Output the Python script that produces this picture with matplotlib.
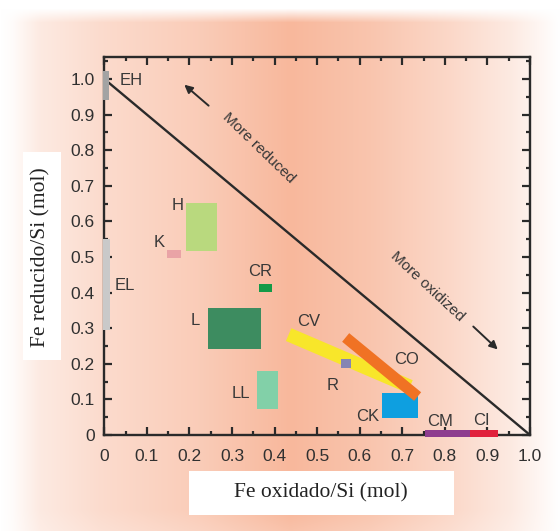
import numpy as np
import matplotlib
matplotlib.use("Agg")
import matplotlib.pyplot as plt
from matplotlib.patches import Rectangle
from matplotlib.ticker import FixedLocator, MultipleLocator, FixedFormatter

# chondrite groups drawn as boxes (Fe oxidado/Si range, Fe reducido/Si range)
box_names = ["EH", "EL", "H", "K", "CR", "L", "LL", "CK", "CM", "CI"]
box_x0 = [-0.004, -0.003, 0.191, 0.148, 0.364, 0.244, 0.359, 0.652, 0.753, 0.859]
box_x1 = [0.011, 0.014, 0.265, 0.179, 0.393, 0.367, 0.409, 0.738, 0.859, 0.926]
box_y0 = [0.941, 0.295, 0.517, 0.496, 0.401, 0.242, 0.072, 0.049, -0.005, -0.005]
box_y1 = [1.022, 0.550, 0.651, 0.520, 0.424, 0.356, 0.181, 0.117, 0.015, 0.015]
box_colors = ["#a3a3a3", "#c9c9c9", "#b9d97e", "#e9a3a6", "#149a48", "#3d8c60",
              "#82d0a8", "#0e9fe0", "#8e3d8f", "#e1213c"]

# groups drawn as slanted bands (start point -> end point)
band_names = ["CV", "CO"]
band_x0 = [0.433, 0.567]
band_y0 = [0.282, 0.274]
band_x1 = [0.718, 0.736]
band_y1 = [0.136, 0.108]
band_colors = ["#f8e62a", "#f07224"]

# R group: small square sitting on the CV band
r_x = [0.556, 0.580]
r_y = [0.188, 0.213]

label_text = ["EH", "EL", "H", "K", "CR", "L", "LL", "CV", "R", "CO", "CK", "CM", "CI"]
label_x = [0.064, 0.049, 0.172, 0.128, 0.367, 0.213, 0.320, 0.479, 0.537, 0.710, 0.618, 0.789, 0.886]
label_y = [0.995, 0.420, 0.646, 0.540, 0.459, 0.323, 0.117, 0.318, 0.140, 0.213, 0.051, 0.037, 0.040]

x_ticks = [0, 0.1, 0.2, 0.3, 0.4, 0.5, 0.6, 0.7, 0.8, 0.9, 1.0]
x_ticklabels = ["0", "0.1", "0.2", "0.3", "0.4", "0.5", "0.6", "0.7", "0.8", "0.9", "1.0"]
y_ticks = x_ticks
y_ticklabels = x_ticklabels

W, H = 560, 531
fig = plt.figure(figsize=(W / 100, H / 100), dpi=100)
fig.patch.set_facecolor("white")

# peach background, strongest in the middle
bg = fig.add_axes([0, 0, 1, 1], zorder=-5)
bg.set_xlim(0, W)
bg.set_ylim(H, 0)
bg.axis("off")
px = np.arange(W)
py = np.arange(H)
tx = np.interp(px, [0, 12, 40, 100, 200, 290, 370, 450, 510, 540, 556, 560],
               [0, 0.05, 0.3, 0.5, 0.72, 1.0, 0.82, 0.55, 0.3, 0.12, 0.02, 0])
ty = np.interp(py, [0, 8, 22, 510, 531], [0, 0, 1, 1, 0.85])
t = ty[:, None] * tx[None, :]
peak = np.array([248, 184, 156]) / 255.0
img = 1 - t[..., None] * (1 - peak)
bg.imshow(img, extent=(0, W, H, 0), aspect="auto", interpolation="bilinear")
bg.add_patch(Rectangle((189, 471), 265, 44, facecolor="white", edgecolor="none"))
bg.add_patch(Rectangle((23, 152), 38, 208, facecolor="white", edgecolor="none"))

ax = fig.add_axes([104.3 / W, 1 - 435 / H, (530 - 104.3) / W, (435 - 56.7) / H])
ax.set_facecolor("none")
ax.set_xlim(0, 1.0)
ax.set_ylim(0, (435 - 56.7) / 356)

ink = "#2a2a2a"
for s in ax.spines.values():
    s.set_linewidth(1.7)
    s.set_color(ink)

ax.xaxis.set_major_locator(FixedLocator(x_ticks))
ax.xaxis.set_major_formatter(FixedFormatter(x_ticklabels))
ax.yaxis.set_major_locator(FixedLocator(y_ticks))
ax.yaxis.set_major_formatter(FixedFormatter(y_ticklabels))
ax.xaxis.set_minor_locator(MultipleLocator(0.05))
ax.yaxis.set_minor_locator(MultipleLocator(0.05))
ax.tick_params(which="both", direction="in", top=True, right=True, color=ink, width=1.6)
ax.tick_params(which="major", length=5.5)
ax.tick_params(which="minor", length=3)
ax.tick_params(axis="x", which="major", pad=10)
ax.tick_params(axis="y", which="major", pad=7)
for lab in ax.get_xticklabels() + ax.get_yticklabels():
    lab.set_fontfamily("Liberation Sans")
    lab.set_fontsize(12.5)
    lab.set_color("#303030")

# reduction/oxidation boundary
ax.plot([0, 1.0], [1.0, 0], color=ink, lw=1.7, zorder=3)

for i in range(len(box_names)):
    ax.add_patch(Rectangle((box_x0[i], box_y0[i]), box_x1[i] - box_x0[i], box_y1[i] - box_y0[i],
                           facecolor=box_colors[i], edgecolor="none", clip_on=False,
                           zorder=4 if box_names[i] != "CK" else 5))

ax.plot([band_x0[0], band_x1[0]], [band_y0[0], band_y1[0]], color=band_colors[0],
        lw=10, solid_capstyle="butt", zorder=4)
ax.plot([band_x0[1], band_x1[1]], [band_y0[1], band_y1[1]], color=band_colors[1],
        lw=8, solid_capstyle="butt", zorder=6)
ax.add_patch(Rectangle((r_x[0], r_y[0]), r_x[1] - r_x[0], r_y[1] - r_y[0],
                       facecolor="#8585b3", edgecolor="none", zorder=6))

for s, x, y in zip(label_text, label_x, label_y):
    ax.text(x, y, s, ha="center", va="center", fontsize=12, color="#383838",
            family="Liberation Sans", zorder=7)

ax.annotate("", xy=(0.183, 0.989), xytext=(0.25, 0.92),
            arrowprops=dict(arrowstyle="-|>", color=ink, lw=1.4, mutation_scale=12))
ax.text(0.362, 0.806, "More reduced", rotation=-44, ha="center", va="center",
        fontsize=11, color="#383838", family="Liberation Sans", rotation_mode="anchor")
ax.annotate("", xy=(0.929, 0.235), xytext=(0.862, 0.31),
            arrowprops=dict(arrowstyle="-|>", color=ink, lw=1.4, mutation_scale=12))
ax.text(0.76, 0.418, "More oxidized", rotation=-43, ha="center", va="center",
        fontsize=11, color="#383838", family="Liberation Sans", rotation_mode="anchor")

fig.text(321 / W, 1 - 493 / H, "Fe oxidado/Si (mol)", ha="center", va="center",
         fontsize=15.5, family="Liberation Serif", color="#222222")
fig.text(41 / W, 1 - 257 / H, "Fe reducido/Si (mol)", ha="center", va="center",
         rotation=90, fontsize=15.5, family="Liberation Serif", color="#222222")

fig.savefig("out.png", dpi=100)
